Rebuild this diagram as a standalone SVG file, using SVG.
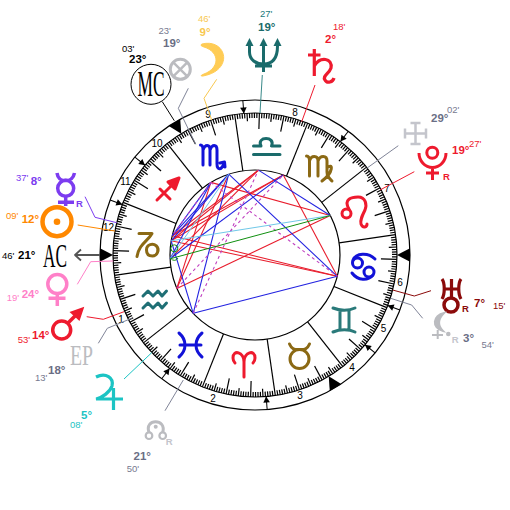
<svg xmlns="http://www.w3.org/2000/svg" width="510" height="510" viewBox="0 0 510 510">
<style>
text{font-family:"Liberation Sans",Arial,sans-serif}
.d{font-size:11.5px;font-weight:bold}
.m{font-size:9.5px}
.r{font-size:9.5px;font-weight:bold}
.big{font-family:"Liberation Serif","Times New Roman",serif}
.g{fill:none;stroke-linecap:butt;stroke-linejoin:round}
.blk{stroke:#000;stroke-width:1.2;fill:none}
.b{stroke:#2222e0;stroke-width:1.1}
.e{stroke:#e81c2c;stroke-width:1.1}
.p{stroke:#c040c0;stroke-width:1.1;stroke-dasharray:3 3}
.c{fill:none;stroke-width:1}
.sign{fill:none;stroke-width:3;stroke-linecap:round;stroke-linejoin:round}
</style>
<defs>
<line id="cusp" x1="340" y1="255" x2="397" y2="255" stroke="#000" stroke-width="1.2"/>
<polygon id="tri" points="410,248.3 410,261.7 397,255" fill="#000"/>
<g id="hc"><line x1="397" y1="255" x2="410" y2="255" stroke="#000" stroke-width="1"/><polygon points="397,255 403,251.7 403,258.3" fill="#000"/></g>
<line id="t1" x1="392" y1="255" x2="397" y2="255" stroke="#000" stroke-width="1.2"/>
<line id="t5" x1="389" y1="255" x2="397" y2="255" stroke="#000" stroke-width="1.2"/>
<line id="t10" x1="381" y1="255" x2="397" y2="255" stroke="#000" stroke-width="1.2"/>
<g id="f5"><use href="#t1" transform="rotate(1 255 255)"/><use href="#t1" transform="rotate(2 255 255)"/><use href="#t1" transform="rotate(3 255 255)"/><use href="#t1" transform="rotate(4 255 255)"/></g>
<g id="f30"><use href="#f5"/><use href="#t5" transform="rotate(5 255 255)"/><use href="#f5" transform="rotate(5 255 255)"/><use href="#t10" transform="rotate(10 255 255)"/><use href="#f5" transform="rotate(10 255 255)"/><use href="#t5" transform="rotate(15 255 255)"/><use href="#f5" transform="rotate(15 255 255)"/><use href="#t10" transform="rotate(20 255 255)"/><use href="#f5" transform="rotate(20 255 255)"/><use href="#t5" transform="rotate(25 255 255)"/><use href="#f5" transform="rotate(25 255 255)"/></g>
</defs>
<g id="wheel">
<circle cx="255" cy="255" r="155" class="blk"/>
<circle cx="255" cy="255" r="142" class="blk"/>
<circle cx="255" cy="255" r="85" class="blk"/>
<use href="#cusp" transform="rotate(-8.23 255 255)"/><use href="#cusp" transform="rotate(-38.23 255 255)"/><use href="#cusp" transform="rotate(-68.23 255 255)"/><use href="#cusp" transform="rotate(-98.23 255 255)"/><use href="#cusp" transform="rotate(-128.23 255 255)"/><use href="#cusp" transform="rotate(-158.23 255 255)"/><use href="#cusp" transform="rotate(-188.23 255 255)"/><use href="#cusp" transform="rotate(-218.23 255 255)"/><use href="#cusp" transform="rotate(-248.23 255 255)"/><use href="#cusp" transform="rotate(-278.23 255 255)"/><use href="#cusp" transform="rotate(-308.23 255 255)"/><use href="#cusp" transform="rotate(-338.23 255 255)"/>
<use href="#tri"/><use href="#tri" transform="rotate(180 255 255)"/><use href="#tri" transform="rotate(-121.28 255 255)"/><use href="#tri" transform="rotate(58.72 255 255)"/>
<use href="#hc" transform="rotate(-94.5 255 255)"/><use href="#hc" transform="rotate(85.5 255 255)"/><use href="#hc" transform="rotate(-53 255 255)"/><use href="#hc" transform="rotate(127 255 255)"/><use href="#hc" transform="rotate(-140.8 255 255)"/><use href="#hc" transform="rotate(39.2 255 255)"/><use href="#hc" transform="rotate(-159.2 255 255)"/><use href="#hc" transform="rotate(20.8 255 255)"/>
<g font-size="10" text-anchor="middle" fill="#000">
<text x="121" y="323">1</text><text x="213" y="402">2</text><text x="300" y="399">3</text><text x="352" y="370.500">4</text><text x="383.500" y="332">5</text><text x="400" y="286">6</text><text x="387" y="192">7</text><text x="295" y="116">8</text><text x="208" y="118">9</text><text x="157" y="146.500">10</text><text x="125.500" y="184.500">11</text><text x="108.500" y="231">12</text>
</g>
</g>
<g id="zodiac">
<g id="z-scorpio" class="sign" stroke="#1212d8"><path d="M200.500,145 C203,145 203,148 203,150 V165 M203,150 C205,144 210,144 210,150 V165 M210,150 C212,144 217,144 217,150 V164 C217,171 222,170 224,163 M220,163 L224.500,162 L225,167"/></g>
<g id="z-libra" class="sign" stroke="#1a6b6b"><path d="M253.500,154.500 H280 M253.500,146 H261 C256,136 276,136 271.500,146 H280" stroke-width="3"/></g>
<g id="z-virgo" class="sign" stroke="#8b6914"><path d="M306.500,156 C309,156 309.500,158 309.500,161 V176 M309.500,161 C311,155 318,155 318,161 V176 M318,161 C320,155 327,155 327,161 V172 C327,177 331,180 332,181 M327,168 C333,162 334,172 322,181"/></g>
<g id="z-leo" class="sign" stroke="#ee1a2e"><circle cx="346.500" cy="213.500" r="4.500"/><path d="M349,209 C343,199 352,197 358,197 C366,197 367,205 365,210 C362,216 360,220 361,224 C363,229 367,227 367,224"/></g>
<g id="z-cancer" class="sign" stroke="#1212d8"><circle cx="357.500" cy="263" r="5"/><circle cx="369" cy="272" r="5"/><path d="M353,260 C356,253 368,252 375,259 M373,275 C368,281 358,281 352,273"/></g>
<g id="z-gemini" class="sign" stroke="#2a7a7a"><path d="M333,308 C340,311 349,311 355,308 M333,332 C340,329 349,329 355,332 M340,310 V330 M349,310 V330"/></g>
<g id="z-taurus" class="sign" stroke="#8b6914"><circle cx="299.500" cy="359" r="9.500"/><path d="M289.500,344 C292,350 295,349.500 299.500,349.500 C304,349.500 307,350 309.500,344"/></g>
<g id="z-aries" class="sign" stroke="#ee1a2e"><path d="M244,377 V362 C244,352 233,349 233,358 C233,360 234,362 235,363 M244,362 C244,352 255,349 255,358 C255,360 254,362 253,363"/></g>
<g id="z-pisces" class="sign" stroke="#1212d8"><path d="M179,333 C187,340 187,350 179,357 M202,333 C194,340 194,350 202,357 M180,345 H201"/></g>
<g id="z-aquarius" class="sign" stroke="#1f6f75"><path d="M143,296 L148,291 L153,296 L158,291 L162,296 L166.500,291 M143,308 L148,303 L153,308 L158,303 L162,308 L166.500,303"/></g>
<g id="z-capricorn" class="sign" stroke="#8b6914"><path d="M139,233.500 H152 C148,241 139,244 137,256.500 M146.500,250 C146.500,244 153,243 156.500,246 C160,250 157,256 152.500,256 C148,256 146.500,253 146.500,250"/></g>
<g id="z-sagittarius" class="sign" stroke="#ee1a2e"><path d="M157,200 L176,181 M160,189 L170,199"/><polygon points="179,178 168,182 175,189" fill="#ee1a2e"/></g>
</g>
<g id="ticks"><use href="#f30" transform="rotate(-38.23 255 255)"/><use href="#f30" transform="rotate(-8.23 255 255)"/><use href="#f30" transform="rotate(21.77 255 255)"/><use href="#f30" transform="rotate(51.77 255 255)"/><use href="#f30" transform="rotate(81.77 255 255)"/><use href="#f30" transform="rotate(111.77 255 255)"/><use href="#f30" transform="rotate(141.77 255 255)"/><use href="#f30" transform="rotate(171.77 255 255)"/><use href="#f30" transform="rotate(201.77 255 255)"/><use href="#f30" transform="rotate(231.77 255 255)"/><use href="#f30" transform="rotate(261.77 255 255)"/><use href="#f30" transform="rotate(291.77 255 255)"/></g>
<g id="connectors" class="g">
<path d="M162.300,101.700 L174.300,120.700" stroke="#000"/>
<path d="M188.300,88.300 L178.300,108.300 L195.700,144.300" stroke="#808498"/>
<path d="M216.700,79.300 L204,98.300 L211.700,120" stroke="#f8c850"/>
<path d="M262.300,75 L260,113" stroke="#3a8a8a"/>
<path d="M315,85 L301.700,121.700" stroke="#ee1a2e"/>
<path d="M398.300,145.700 L366.700,168.300" stroke="#808498"/>
<path d="M414.300,171.700 L380,190" stroke="#ee1a2e"/>
<path d="M431,290.700 L414.300,296 L392.700,290" stroke="#8b0a0a"/>
<path d="M422.700,318.300 L411.700,305 L390.700,298.300" stroke="#808498"/>
<path d="M165,410.700 L183.300,380" stroke="#808498"/>
<path d="M124,379 L151.700,352.700" stroke="#1cc4c4"/>
<path d="M98.300,343.300 L107.300,328.300 L131.700,318.300" stroke="#808498"/>
<path d="M86.700,316.700 L103.300,319.300 L124,311.700" stroke="#ee1a2e"/>
<path d="M77.300,284.300 L90.700,261.700 L113.300,261" stroke="#ff80c8"/>
<path d="M77.700,225 L115,231" stroke="#ff8800"/>
<path d="M85,196.700 L95,217.300 L116.700,222.700" stroke="#7c3cf0"/>
<path d="M75,255 H100 M81,249.500 L75,255 L81,260.500" stroke="#555" stroke-width="1.800"/>
</g>
<g id="aspects">
<g class="e">
<line x1="172.200" y1="235.700" x2="258.400" y2="170.100"/><line x1="171.200" y1="240.800" x2="258.400" y2="170.100"/><line x1="170.100" y1="258.800" x2="258.400" y2="170.100"/>
<line x1="172.200" y1="235.700" x2="283.300" y2="174.900"/><line x1="171.200" y1="240.800" x2="283.300" y2="174.900"/>
<line x1="172.200" y1="235.700" x2="337.300" y2="276.300"/><line x1="171.200" y1="240.800" x2="337.300" y2="276.300"/>
<line x1="176.800" y1="288.400" x2="228.700" y2="174.200"/><line x1="176.800" y1="288.400" x2="210.900" y2="182.400"/><line x1="176.800" y1="288.400" x2="330.300" y2="215.500"/>
<line x1="283.300" y1="174.900" x2="337.300" y2="276.300"/><line x1="210.900" y1="182.400" x2="330.300" y2="215.500"/>
</g>
<g class="b">
<line x1="172.200" y1="235.700" x2="228.700" y2="174.200"/><line x1="171.200" y1="240.800" x2="228.700" y2="174.200"/><line x1="170.100" y1="258.800" x2="210.900" y2="182.400"/><line x1="172.200" y1="235.700" x2="210.900" y2="182.400"/>
<line x1="171.200" y1="240.800" x2="193.200" y2="313.300"/><line x1="228.700" y1="174.200" x2="193.200" y2="313.300"/><line x1="193.200" y1="313.300" x2="337.300" y2="276.300"/>
<line x1="228.700" y1="174.200" x2="337.300" y2="276.300"/><line x1="258.400" y1="170.100" x2="330.300" y2="215.500"/><line x1="283.300" y1="174.900" x2="170.100" y2="258.800"/>
</g>
<g class="p">
<line x1="210.900" y1="182.400" x2="337.300" y2="276.300"/><line x1="193.200" y1="313.300" x2="258.400" y2="170.100"/><line x1="176.800" y1="288.400" x2="283.300" y2="174.900"/><line x1="210.900" y1="182.400" x2="172.200" y2="235.700"/>
</g>
<line x1="228.700" y1="174.200" x2="170.100" y2="258.800" stroke="#70c8e8"/>
<line x1="171.200" y1="240.800" x2="330.300" y2="215.500" stroke="#70c8e8"/>
<line x1="170.100" y1="258.800" x2="330.300" y2="215.500" stroke="#109010"/>
<circle cx="174.300" cy="248.300" r="3.500" class="c" stroke="#109010"/>
<path d="M171,258.500 A4,4 0 0 0 178,258" class="c" stroke="#109010"/>
</g>
<g id="node-mc"><circle cx="151" cy="84.300" r="20" fill="#fff" stroke="#000" stroke-width="1"/><text class="big" x="137.500" y="96" font-size="36" textLength="27" lengthAdjust="spacingAndGlyphs" fill="#000">MC</text><text class="m" x="122" y="52" fill="#000">03'</text><text class="d" x="129" y="63" fill="#000">23°</text></g>
<g id="node-vertex"><circle cx="180.300" cy="69.300" r="10" fill="none" stroke="#bbbcc0" stroke-width="3"/><path d="M173.300,62.300 L187.300,76.300 M187.300,62.300 L173.300,76.300" stroke="#bbbcc0" stroke-width="2.500"/><text class="m" x="158.500" y="34" fill="#777a90">23'</text><text class="d" x="163" y="47" fill="#6a6e85">19°</text></g>
<g id="node-moon"><path d="M202,44 C226,38 235,70 203,76 C200,76.500 201,75 204,74 C220,68 220,52 204,47 C201,46 200,45 202,44Z" fill="#ffcc55" stroke="#ffcc55" stroke-width="1"/><text class="m" x="198" y="21.500" fill="#f8c850">46'</text><text class="d" x="199.500" y="36" fill="#f8c850">9°</text></g>
<g id="node-neptune"><path d="M249.500,46 V52 C249.500,60 256,64 263.500,64 C271,64 277.500,60 277.500,46 M263.500,44 V72 M255,66 H272" fill="none" stroke="#1a6b6b" stroke-width="3"/><path d="M249.500,38 L245.500,46 H253.500Z M263.500,38 L259.500,46 H267.500Z M277.500,38 L273.500,46 H281.500Z" fill="#1a6b6b"/><text class="m" x="260" y="17" fill="#1a7a7a">27'</text><text class="d" x="258" y="31" fill="#1a6b6b">19°</text></g>
<g id="node-saturn"><path d="M314.300,49 V76 M308,55 H320.500 M314.300,66 C320,56 333,58 331,68 C329,74 322,76 325,80 C327,84 333,82 334,78" fill="none" stroke="#ee1a2e" stroke-width="3.200"/><text class="m" x="333" y="30" fill="#ee1a2e">18'</text><text class="d" x="325" y="43" fill="#ee1a2e">2°</text></g>
<g id="node-ceres"><path d="M415.500,123 V144 M405,133.500 H426 M410.500,123 H420.500 M410.500,144 H420.500 M405,128.500 V138.500 M426,128.500 V138.500" fill="none" stroke="#c4c5cc" stroke-width="2.500"/><text class="d" x="431" y="122" fill="#6a6e85">29°</text><text class="m" x="447" y="113" fill="#777a90">02'</text></g>
<g id="node-pluto"><circle cx="432.300" cy="152.700" r="5.500" fill="none" stroke="#ee1a2e" stroke-width="3"/><path d="M419,153 A13.500,14.500 0 0 0 446,153 M432.500,167 V180 M426,173 H439" fill="none" stroke="#ee1a2e" stroke-width="3"/><text class="r" x="443" y="180" fill="#ee1a2e">R</text><text class="d" x="452" y="154" fill="#ee1a2e">19°</text><text class="m" x="469" y="147" fill="#ee1a2e">27'</text></g>
<g id="node-uranus"><path d="M442,279 C445,283 445,294 442,299 M461,279 C458,283 458,294 461,299 M443,289 H460 M451.500,279 V298" fill="none" stroke="#8b0a0a" stroke-width="3.200"/><circle cx="451" cy="305" r="7" fill="none" stroke="#8b0a0a" stroke-width="3.500"/><text class="r" x="462" y="311.700" fill="#8b0a0a">R</text><text class="d" x="474" y="306.700" fill="#8b0a0a">7°</text><text class="m" x="493" y="309" fill="#8b0a0a">15'</text></g>
<g id="node-lilith"><path d="M444,313 C433,315 431,328 443,331 C437,325 438,319 444,313Z M437.700,330 V339 M432,335 H443" fill="#bbbcc0" stroke="#bbbcc0" stroke-width="2"/><circle cx="448.300" cy="334" r="2.300" fill="#bbbcc0"/><text class="r" x="451.700" y="342.700" fill="#c4c5cc">R</text><text class="d" x="463" y="342" fill="#6a6e85">3°</text><text class="m" x="481.500" y="347.700" fill="#777a90">54'</text></g>
<g id="node-node"><path d="M149,432.500 C144,418 167,418 162.700,432.500" fill="none" stroke="#bbbcc0" stroke-width="3"/><circle cx="149" cy="435.700" r="3.300" fill="none" stroke="#bbbcc0" stroke-width="2.200"/><circle cx="162.700" cy="435.700" r="3.300" fill="none" stroke="#bbbcc0" stroke-width="2.200"/><circle cx="155.700" cy="426.700" r="2" fill="#bbbcc0"/><text class="r" x="165.700" y="445" fill="#c4c5cc">R</text><text class="d" x="133.500" y="460" fill="#6a6e85">21°</text><text class="m" x="126.700" y="471.700" fill="#777a90">50'</text></g>
<g id="node-jupiter"><path d="M96,377 C106,372 114,378 112,386 C110,392 102,398 96,399 H123 M113.500,388 V410" fill="none" stroke="#1cc4c4" stroke-width="3.200"/><text class="d" x="81" y="419" fill="#1cc4c4">5°</text><text class="m" x="70" y="427.700" fill="#1cc4c4">08'</text></g>
<g id="node-ep"><text class="big" x="70" y="365" font-size="30" textLength="23" lengthAdjust="spacingAndGlyphs" fill="#bbbcc0">EP</text><text class="d" x="48" y="374" fill="#6a6e85">18°</text><text class="m" x="35" y="381" fill="#777a90">13'</text></g>
<g id="node-mars"><circle cx="61.700" cy="330" r="9" fill="none" stroke="#ee1a2e" stroke-width="3.500"/><path d="M68,323 L78,313" stroke="#ee1a2e" stroke-width="3.500"/><polygon points="84.300,306.700 69.500,312 79.500,321" fill="#ee1a2e"/><text class="d" x="32" y="339" fill="#ee1a2e">14°</text><text class="m" x="17.700" y="343" fill="#ee1a2e">53'</text></g>
<g id="node-venus"><circle cx="57.300" cy="284" r="9.500" fill="none" stroke="#ff80c8" stroke-width="3.500"/><path d="M57.300,293 V306 M48.500,298.300 H65.500" stroke="#ff80c8" stroke-width="3.500"/><text class="d" x="21.700" y="298" fill="#ff80c8">24°</text><text class="m" x="6.700" y="300.700" fill="#ff80c8">19'</text></g>
<g id="node-ac"><text class="big" x="43" y="267" font-size="33" textLength="24" lengthAdjust="spacingAndGlyphs" fill="#000">AC</text><text class="d" x="18" y="259" fill="#000">21°</text><text class="m" x="2" y="259" fill="#000">46'</text></g>
<g id="node-sun"><circle cx="57" cy="221.700" r="14.500" fill="none" stroke="#ff8800" stroke-width="4.500"/><circle cx="57" cy="221.700" r="3.300" fill="#ff8800"/><text class="d" x="21.700" y="222.700" fill="#ff8800">12°</text><text class="m" x="6" y="219.300" fill="#ff8800">09'</text></g>
<g id="node-mercury"><circle cx="65.700" cy="188.300" r="8" fill="none" stroke="#7c3cf0" stroke-width="3.500"/><path d="M57,173 C58,180 62,180.500 65.700,180.500 C69,180.500 73,180 74.500,173 M65.700,196 V206 M58,202.300 H74" fill="none" stroke="#7c3cf0" stroke-width="3.500"/><text class="r" x="76" y="206.700" fill="#7c3cf0">R</text><text class="d" x="30.700" y="185" fill="#7c3cf0">8°</text><text class="m" x="16" y="180.700" fill="#7c3cf0">37'</text></g>
</svg>
